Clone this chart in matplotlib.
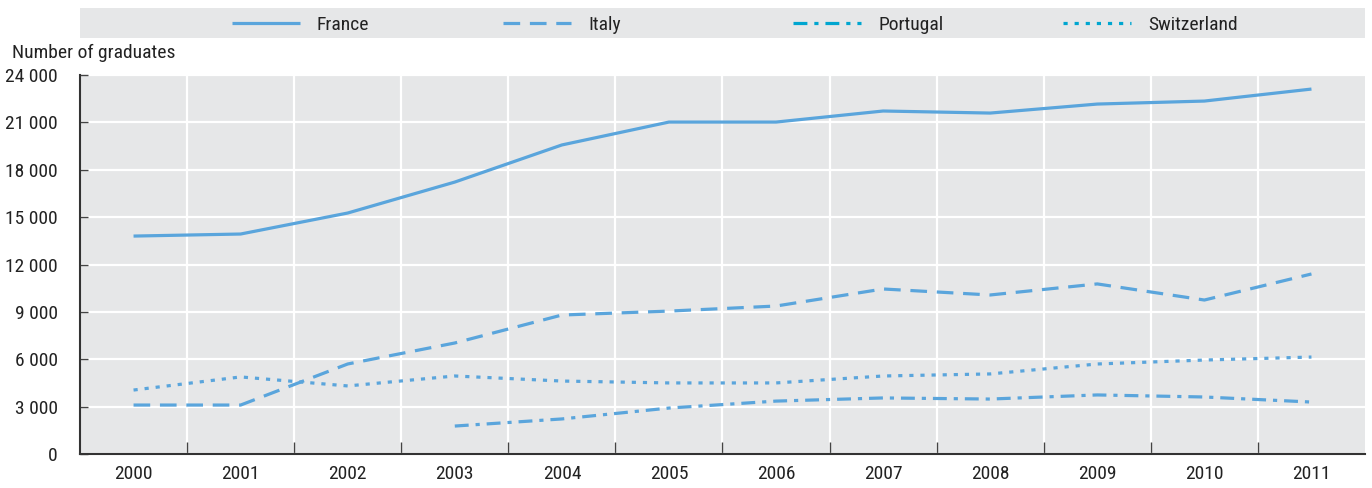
import matplotlib
matplotlib.use("Agg")
import matplotlib.pyplot as plt
from matplotlib.lines import Line2D
from matplotlib import font_manager

names_avail = {f.name for f in font_manager.fontManager.ttflist}
narrow = [n for n in ['Liberation Sans Narrow', 'DejaVu Sans Condensed', 'Roboto Condensed', 'Open Sans Condensed', 'Liberation Sans'] if n in names_avail]
plt.rcParams['font.family'] = narrow[:1] + ['DejaVu Sans']
plt.rcParams['lines.scale_dashes'] = False

# data
years = [2000, 2001, 2002, 2003, 2004, 2005, 2006, 2007, 2008, 2009, 2010, 2011]
france = [13800, 13930, 15260, 17220, 19570, 21020, 21020, 21720, 21590, 22160, 22350, 23110]
italy = [3100, 3100, 5700, 7030, 8800, 9050, 9370, 10450, 10070, 10770, 9750, 11400]
portugal_years = [2003, 2004, 2005, 2006, 2007, 2008, 2009, 2010, 2011]
portugal = [1770, 2220, 2910, 3350, 3550, 3480, 3740, 3610, 3290]
switzerland = [4050, 4880, 4310, 4940, 4620, 4500, 4500, 4940, 5070, 5700, 5950, 6140]

y_ticks = [0, 3000, 6000, 9000, 12000, 15000, 18000, 21000, 24000]

line_col = '#5aa5dc'
legend_col2 = '#00a6d0'
bg = '#e6e7e8'
text_col = '#222222'
fs = 14

fig = plt.figure(figsize=(13.72, 4.88), dpi=100)
ax = fig.add_axes([80 / 1372, 34 / 488, 1285 / 1372, 379 / 488])
ax.set_facecolor(bg)

idx = {y: i for i, y in enumerate(years)}
xs = [idx[y] for y in years]
xp = [idx[y] for y in portugal_years]

ax.plot(xs, france, color=line_col, lw=2.3, solid_capstyle='butt')
ax.plot(xs, italy, color=line_col, lw=2.3, dashes=(12, 7), dash_capstyle='butt')
ax.plot(xp, portugal, color=line_col, lw=2.3, dashes=(10, 5, 3, 5), dash_capstyle='butt')
ax.plot(xs, switzerland, color=line_col, lw=2.3, dashes=(3, 5), dash_capstyle='butt')

ax.set_xlim(-0.5, len(years) - 0.5)
ax.set_ylim(0, 24000)

ax.set_xticks(xs)
ax.set_xticklabels([str(y) for y in years], fontsize=fs, color=text_col)
ax.set_xticks([i + 0.5 for i in range(len(years) - 1)], minor=True)
ax.tick_params(axis='x', which='major', length=0, pad=8)
ax.tick_params(axis='x', which='minor', direction='in', length=9, width=1, color='#444444')

ax.set_yticks(y_ticks)
ax.set_yticklabels([f"{v:,}".replace(",", " ") for v in y_ticks], fontsize=fs, color=text_col)
ax.tick_params(axis='y', direction='in', length=6, width=1, color='#444444', pad=16)

ax.grid(True, which='major', axis='y', color='white', lw=1.6)
ax.grid(True, which='minor', axis='x', color='white', lw=1.6)
ax.set_axisbelow(True)

for s in ['top', 'right']:
    ax.spines[s].set_visible(False)
ax.spines['left'].set_color('#333333')
ax.spines['bottom'].set_color('#333333')
ax.spines['left'].set_linewidth(1.5)
ax.spines['bottom'].set_linewidth(1.5)

fig.text(12 / 1372, 1 - 53 / 488, 'Number of graduates', fontsize=fs, color=text_col, va='center')

# legend band
lax = fig.add_axes([80 / 1372, 1 - 38 / 488, 1285 / 1372, 30 / 488])
lax.set_facecolor(bg)
lax.set_xlim(0, 1285)
lax.set_ylim(0, 1)
lax.set_xticks([])
lax.set_yticks([])
for s in lax.spines.values():
    s.set_visible(False)

names = ['France', 'Italy', 'Portugal', 'Switzerland']
colors = [line_col, line_col, legend_col2, legend_col2]
styles = [None, (12, 7), (10, 5, 3, 5), (3, 5)]
handle_x = [152, 423, 713, 983]
for name, c, d, x0 in zip(names, colors, styles, handle_x):
    ln = Line2D([x0, x0 + 68], [0.5, 0.5], color=c, lw=2.3, solid_capstyle='butt', dash_capstyle='butt')
    if d is not None:
        ln.set_dashes(d)
    lax.add_line(ln)
    lax.text(x0 + 85, 0.45, name, fontsize=fs, color=text_col, va='center')

fig.savefig('out.png', dpi=100)
